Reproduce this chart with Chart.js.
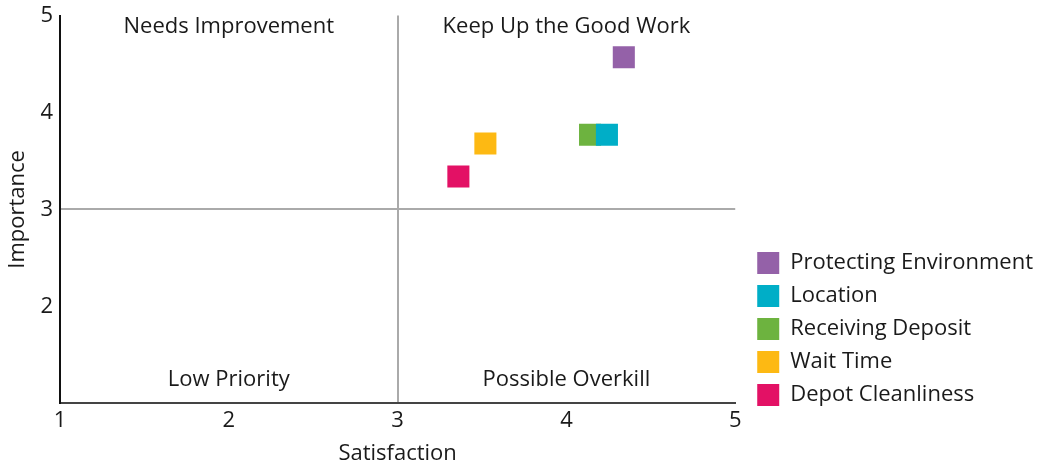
<!DOCTYPE html>
<html>
<head>
<meta charset="utf-8">
<script src="https://cdn.jsdelivr.net/npm/chart.js@4.4.1/dist/chart.umd.min.js"></script>
<style>
  html, body { margin: 0; padding: 0; background: #fff; }
  #wrap { width: 1039px; height: 461px; }
</style>
</head>
<body>
<div id="wrap"><canvas id="c" width="1039" height="461"></canvas></div>
<script>
// Survey items: satisfaction (x) vs importance (y), 1–5 scale
const itemNames = ['Protecting Environment', 'Location', 'Receiving Deposit', 'Wait Time', 'Depot Cleanliness'];
const satisfaction = [4.34, 4.24, 4.14, 3.52, 3.36];
const importance = [4.57, 3.77, 3.77, 3.68, 3.34];
const itemColors = ['#9461A8', '#00AEC7', '#6DB33F', '#FDB913', '#E31165'];

const axisTicks = [1, 2, 3, 4, 5];
const midpoint = 3;

// Quadrant captions, placed in data coordinates
const quadrantLabels = ['Needs Improvement', 'Keep Up the Good Work', 'Low Priority', 'Possible Overkill'];
const quadrantX = [2, 4, 2, 4];
const quadrantY = [4.89, 4.89, 1.24, 1.24];

const FONT = '"Open Sans", Lato, sans-serif';
const FONT_SIZE = 22;
const LEGEND_EXTRA = 7;    // extra width reserved for the legend column
const LEGEND_SHIFT = 11;   // gap between plot edge and legend swatches
const LEGEND_LIFT = 44;    // raise legend block above plot bottom

const datasets = itemNames.map((name, i) => ({
  label: name,
  data: [{ x: satisfaction[i], y: importance[i] }],
  backgroundColor: itemColors[i],
  borderColor: itemColors[i],
  borderWidth: 0,
  pointStyle: 'rect',
  pointRadius: 15.6,
  pointHoverRadius: 15.6
}));

const quadrantPlugin = {
  id: 'quadrants',
  afterDatasetsDraw(chart) {
    const { ctx, scales } = chart;
    ctx.save();
    ctx.fillStyle = '#1a1a1a';
    ctx.font = FONT_SIZE + 'px ' + FONT;
    ctx.textAlign = 'center';
    ctx.textBaseline = 'middle';
    quadrantLabels.forEach((t, i) => {
      ctx.fillText(t, scales.x.getPixelForValue(quadrantX[i]), scales.y.getPixelForValue(quadrantY[i]));
    });
    ctx.restore();
  }
};

// Widen the legend box so the plot keeps a gap, then nudge the legend block
const legendPlacement = {
  id: 'legendPlacement',
  afterInit(chart) {
    const lg = chart.legend;
    const fit = lg.fit.bind(lg);
    lg.fit = function () { fit(); this.width += LEGEND_EXTRA; };
  },
  afterLayout(chart) {
    const lg = chart.legend;
    lg.left += LEGEND_SHIFT;
    lg.bottom -= LEGEND_LIFT;
  }
};

function gridColor(ctx) {
  return (ctx.tick && ctx.tick.value === midpoint) ? '#aaaaaa' : 'rgba(0,0,0,0)';
}

function draw() {
  new Chart(document.getElementById('c'), {
    type: 'scatter',
    data: { datasets },
    plugins: [quadrantPlugin, legendPlacement],
    options: {
      responsive: false,
      animation: false,
      layout: { padding: 0 },
      plugins: {
        tooltip: { enabled: false },
        legend: {
          position: 'right',
          align: 'end',
          maxWidth: 360,
          labels: {
            boxWidth: 22,
            boxHeight: 22,
            padding: 11,
            color: '#1a1a1a',
            font: { family: FONT, size: FONT_SIZE }
          }
        }
      },
      scales: {
        x: {
          type: 'linear',
          min: 1, max: 5,
          afterBuildTicks(axis) { axis.ticks = axisTicks.map(v => ({ value: v })); },
          ticks: { color: '#1a1a1a', padding: 4, font: { family: FONT, size: FONT_SIZE } },
          grid: { drawTicks: false, lineWidth: 2, color: gridColor },
          border: { display: true, color: '#444444', width: 2 },
          title: { display: true, text: 'Satisfaction', color: '#1a1a1a', font: { family: FONT, size: FONT_SIZE }, padding: { top: 3, bottom: -6 } }
        },
        y: {
          type: 'linear',
          min: 1, max: 5,
          afterBuildTicks(axis) { axis.ticks = axisTicks.map(v => ({ value: v })); },
          afterFit(axis) { axis.paddingTop = 13; axis.paddingBottom = 0; },
          ticks: {
            color: '#1a1a1a', padding: 7, font: { family: FONT, size: FONT_SIZE },
            callback: v => (v === 1 ? '' : v)
          },
          grid: { drawTicks: false, lineWidth: 2, color: gridColor },
          border: { display: true, color: '#111111', width: 2 },
          title: { display: true, text: 'Importance', color: '#1a1a1a', font: { family: FONT, size: FONT_SIZE }, padding: { top: 5, bottom: 2 } }
        }
      }
    }
  });
}

// Make sure the label font is ready before text is measured
if (document.fonts && document.fonts.load) {
  document.fonts.load(FONT_SIZE + 'px "Open Sans"').then(draw, draw);
} else {
  draw();
}
</script>
</body>
</html>
